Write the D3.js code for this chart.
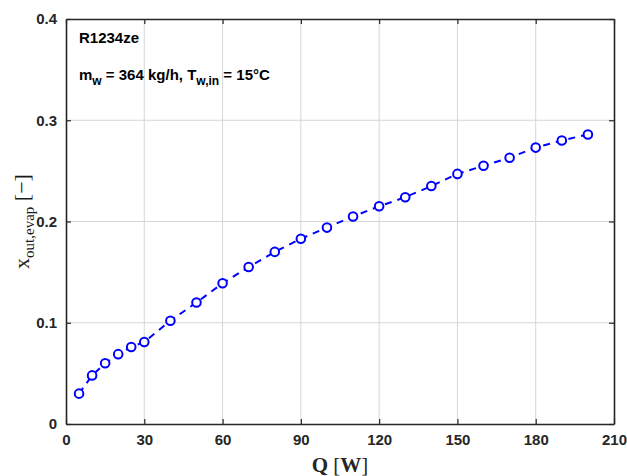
<!DOCTYPE html>
<html>
<head>
<meta charset="utf-8">
<script src="https://cdn.jsdelivr.net/npm/d3@7"></script>
<style>
  html, body { margin: 0; padding: 0; background: #fff; }
  svg { display: block; }
</style>
</head>
<body>
<svg id="chart" width="627" height="476"></svg>
<script>
// Heat load Q [W] and evaporator outlet vapour quality
const heatLoad = [5, 10, 15, 20, 25, 30, 40, 50, 60, 70, 80, 90, 100, 110, 120, 130, 140, 150, 160, 170, 180, 190, 200];
const outletQuality = [0.030, 0.048, 0.060, 0.069, 0.076, 0.081, 0.102, 0.120, 0.139, 0.155, 0.170, 0.183, 0.194, 0.205, 0.215, 0.224, 0.235, 0.247, 0.255, 0.263, 0.273, 0.280, 0.286];
const xTicks = [0, 30, 60, 90, 120, 150, 180, 210];
const yTicks = [0, 0.1, 0.2, 0.3, 0.4];
const yTickLabels = ["0", "0.1", "0.2", "0.3", "0.4"];

const svg = d3.select("#chart");
const margin = { left: 66, right: 13, top: 19, bottom: 52 };
const W = 627, H = 476;
const x = d3.scaleLinear().domain([0, 210]).range([margin.left, W - margin.right]);
const y = d3.scaleLinear().domain([0, 0.4]).range([H - margin.bottom, margin.top]);

const axisColor = "#262626";
const tickFont = "Liberation Sans, Arial, sans-serif";

// grid
const grid = svg.append("g").attr("stroke", "#d6d6d6").attr("stroke-width", 1);
grid.selectAll("line.gx").data(xTicks.slice(1, -1)).join("line")
  .attr("x1", d => x(d)).attr("x2", d => x(d))
  .attr("y1", y(0)).attr("y2", y(0.4));
grid.selectAll("line.gy").data(yTicks.slice(1, -1)).join("line")
  .attr("x1", x(0)).attr("x2", x(210))
  .attr("y1", d => y(d)).attr("y2", d => y(d));

// axes with inward ticks on all four sides
const tickLen = 5;
const axBottom = svg.append("g").attr("transform", `translate(0,${y(0)})`)
  .call(d3.axisBottom(x).tickValues(xTicks).tickSizeInner(-tickLen).tickSizeOuter(0).tickPadding(10).tickFormat(d3.format("d")));
const axTop = svg.append("g").attr("transform", `translate(0,${y(0.4)})`)
  .call(d3.axisTop(x).tickValues(xTicks).tickSizeInner(-tickLen).tickSizeOuter(0).tickFormat(""));
const axLeft = svg.append("g").attr("transform", `translate(${x(0)},0)`)
  .call(d3.axisLeft(y).tickValues(yTicks).tickSizeInner(-tickLen).tickSizeOuter(0).tickPadding(9)
    .tickFormat((d, i) => yTickLabels[i]));
const axRight = svg.append("g").attr("transform", `translate(${x(210)},0)`)
  .call(d3.axisRight(y).tickValues(yTicks).tickSizeInner(-tickLen).tickSizeOuter(0).tickFormat(""));

[axBottom, axTop, axLeft, axRight].forEach(g => {
  g.select(".domain").attr("stroke", axisColor).attr("stroke-width", 1.6);
  g.selectAll(".tick line").attr("stroke", axisColor).attr("stroke-width", 1.2);
  g.selectAll(".tick text")
    .attr("fill", "#262626")
    .attr("font-family", tickFont)
    .attr("font-weight", "bold")
    .attr("font-size", 15);
});

// dashed connecting line
const line = d3.line().x((d, i) => x(heatLoad[i])).y(d => y(d));
svg.append("path")
  .datum(outletQuality)
  .attr("fill", "none")
  .attr("stroke", "#0000ff")
  .attr("stroke-width", 2)
  .attr("stroke-dasharray", "7,6")
  .attr("d", line);

// open circle markers
svg.append("g").selectAll("circle").data(outletQuality).join("circle")
  .attr("cx", (d, i) => x(heatLoad[i]))
  .attr("cy", d => y(d))
  .attr("r", 4.3)
  .attr("fill", "#fff")
  .attr("stroke", "#0000ff")
  .attr("stroke-width", 2);

// annotations
const ann = svg.append("g")
  .attr("font-family", tickFont)
  .attr("font-weight", "bold")
  .attr("fill", "#000");
ann.append("text").attr("x", 79).attr("y", 43).attr("font-size", 15).text("R1234ze");
const t2 = ann.append("text").attr("x", 79).attr("y", 80).attr("font-size", 15);
t2.append("tspan").text("m");
t2.append("tspan").attr("dy", 5).attr("font-size", 12).text("w");
t2.append("tspan").attr("dy", -5).text(" = 364 kg/h, T");
t2.append("tspan").attr("dy", 5).attr("font-size", 12).text("w,in");
t2.append("tspan").attr("dy", -5).text(" = 15°C");

// axis titles
const serif = "Liberation Serif, Times New Roman, serif";
const xt = svg.append("text")
  .attr("x", (x(0) + x(210)) / 2).attr("y", 472)
  .attr("text-anchor", "middle")
  .attr("font-family", serif)
  .attr("font-weight", "bold")
  .attr("font-size", 21)
  .attr("fill", "#262626");
xt.append("tspan").text("Q ");
xt.append("tspan").attr("font-weight", "normal").text("[");
xt.append("tspan").text("W");
xt.append("tspan").attr("font-weight", "normal").text("]");

const yt = svg.append("text")
  .attr("transform", `translate(29,${(y(0) + y(0.4)) / 2}) rotate(-90)`)
  .attr("text-anchor", "middle")
  .attr("font-family", serif)
  .attr("font-size", 22)
  .attr("fill", "#1a1a1a");
yt.append("tspan").text("x");
yt.append("tspan").attr("dy", 5).attr("font-size", 15).text("out,evap");
yt.append("tspan").attr("dy", -5).text(" [\u2212]");
</script>
</body>
</html>
